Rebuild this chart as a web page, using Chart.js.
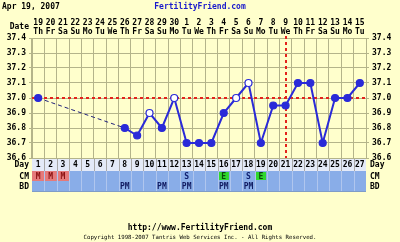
<!DOCTYPE html>
<html>
<head>
<meta charset="utf-8">
<script src="https://cdn.jsdelivr.net/npm/chart.js@4"></script>
<style>
  html, body { margin: 0; padding: 0; background: #ffffcc; }
  #chart { display: block; }
</style>
</head>
<body>
<canvas id="chart" width="400" height="242"></canvas>
<script>
// cycle days and calendar
const dayLabels = ['1','2','3','4','5','6','7','8','9','10','11','12','13','14','15','16','17','18','19','20','21','22','23','24','25','26','27'];
const dateLabels = ['19','20','21','22','23','24','25','26','27','28','29','30','1','2','3','4','5','6','7','8','9','10','11','12','13','14','15'];
const weekdayLabels = ['Th','Fr','Sa','Su','Mo','Tu','We','Th','Fr','Sa','Su','Mo','Tu','We','Th','Fr','Sa','Su','Mo','Tu','We','Th','Fr','Sa','Su','Mo','Tu'];

// temperatures (null = not recorded)
const temps = [37.0, null, null, null, null, null, null, 36.8, 36.75, 36.9, 36.8, 37.0, 36.7, 36.7, 36.7, 36.9, 37.0, 37.1, 36.7, 36.95, 36.95, 37.1, 37.1, 36.7, 37.0, 37.0, 37.1];
const openDays = ['10', '12', '17', '18'];

// cervical mucus and intercourse rows
const cmMarks = ['M','M','M','','','','','','','','','','S','','','E','','S','E','','','','','','','',''];
const bdMarks = ['','','','','','','','PM','','','PM','','PM','','','PM','','PM','','','','','','','','',''];

const tempMin = 36.6;
const tempMax = 37.4;
const tempStep = 0.1;
const coverline = 37.0;
const ovulationDay = '21';

const titleText = 'Apr 19, 2007';
const siteText = 'FertilityFriend.com';
const footerUrl = 'http://www.FertilityFriend.com';
const footerCopy = 'Copyright 1998-2007 Tantris Web Services Inc. - All Rights Reserved.';

const MONO = "'DejaVu Sans Mono', monospace";
const bgColor = '#ffffcc';
const gridColor = '#b4b48a';
const blue = '#2a2ad8';

const decor = {
  id: 'decor',
  beforeDraw(chart) {
    const { ctx, chartArea: a, scales: { x } } = chart;
    ctx.save();
    ctx.fillStyle = bgColor;
    ctx.fillRect(0, 0, chart.width, chart.height);

    ctx.textBaseline = 'middle';
    ctx.font = 'bold 8px ' + MONO;
    ctx.fillStyle = '#000';
    ctx.textAlign = 'left';
    ctx.fillText(titleText, 2, 7);
    ctx.fillStyle = '#1a1acc';
    ctx.textAlign = 'center';
    ctx.fillText(siteText, 200, 7);

    ctx.fillStyle = '#000';
    ctx.textAlign = 'right';
    ctx.fillText('Date', a.left - 3, 27);

    ctx.textAlign = 'center';
    ctx.fillText(footerUrl, 200, 228);
    ctx.font = '5.7px ' + MONO;
    ctx.fillText(footerCopy, 200, 238);

    // table rows under the plot
    const w = x.getPixelForValue(1) - x.getPixelForValue(0);
    const rows = [
      { top: a.bottom, h: 13, fill: '#e4eaf8', line: '#a8a8a8' },
      { top: a.bottom + 13, h: 10, fill: '#89ade8', line: '#b0c6ee' },
      { top: a.bottom + 23, h: 10, fill: '#89ade8', line: '#b0c6ee' }
    ];
    rows.forEach((r, ri) => {
      ctx.fillStyle = r.fill;
      ctx.fillRect(a.left, r.top, a.right - a.left, r.h);
      dayLabels.forEach((d, i) => {
        const cx = x.getPixelForValue(i);
        if (ri === 1 && cmMarks[i] === 'M') {
          ctx.fillStyle = '#e57a7a';
          ctx.fillRect(cx - w / 2, r.top, w, r.h);
        }
        if (ri === 1 && cmMarks[i] === 'E') {
          ctx.fillStyle = '#2fd82f';
          ctx.fillRect(cx - w / 2 + 1, r.top + 1, w - 2, r.h - 2);
        }
      });
      ctx.strokeStyle = r.line;
      ctx.lineWidth = 1;
      ctx.beginPath();
      for (let i = 1; i < dayLabels.length; i++) {
        const ex = Math.round(x.getPixelForValue(i) - w / 2) + 0.5;
        ctx.moveTo(ex, r.top);
        ctx.lineTo(ex, r.top + r.h);
      }
      ctx.stroke();
      ctx.strokeStyle = '#7f9cc8';
      ctx.beginPath();
      ctx.moveTo(a.left, r.top + r.h + 0.5);
      ctx.lineTo(a.right, r.top + r.h + 0.5);
      ctx.stroke();
    });

    ctx.font = 'bold 8px ' + MONO;
    ctx.textAlign = 'center';
    dayLabels.forEach((d, i) => {
      const cx = x.getPixelForValue(i);
      if (cmMarks[i]) {
        ctx.fillStyle = cmMarks[i] === 'M' ? '#8a1010' : (cmMarks[i] === 'E' ? '#0a4a0a' : '#102070');
        ctx.fillText(cmMarks[i], cx, rows[1].top + 5.5);
      }
      if (bdMarks[i]) {
        ctx.fillStyle = '#101a60';
        ctx.fillText(bdMarks[i], cx, rows[2].top + 5.5);
      }
    });

    ctx.fillStyle = '#000';
    const names = ['Day', 'CM', 'BD'];
    rows.forEach((r, ri) => {
      ctx.textAlign = 'right';
      ctx.fillText(names[ri], a.left - 3, r.top + r.h / 2 + 0.5);
      ctx.textAlign = 'left';
      ctx.fillText(names[ri], a.right + 4, r.top + r.h / 2 + 0.5);
    });
    ctx.restore();
  },
  beforeDatasetsDraw(chart) {
    const { ctx, chartArea: a, scales: { x, y } } = chart;
    ctx.save();
    ctx.strokeStyle = '#e3231c';
    ctx.lineWidth = 2;
    ctx.setLineDash([3, 3]);
    const cy = Math.round(y.getPixelForValue(coverline));
    ctx.beginPath();
    ctx.moveTo(a.left, cy);
    ctx.lineTo(a.right, cy);
    const ox = Math.round(x.getPixelForValue(dayLabels.indexOf(ovulationDay)));
    ctx.moveTo(ox, a.top - 2);
    ctx.lineTo(ox, a.bottom);
    ctx.stroke();
    ctx.restore();
  }
};

const isOpen = ctx => openDays.includes(dayLabels[ctx.dataIndex]);
// a segment that jumps over missing days is drawn thin and dashed
const overGap = ctx => temps[ctx.p1DataIndex - 1] === null;

new Chart(document.getElementById('chart'), {
  type: 'line',
  data: {
    labels: dayLabels,
    datasets: [{
      data: temps,
      borderColor: blue,
      borderWidth: 2,
      spanGaps: true,
      pointRadius: 3.5,
      pointBorderWidth: 1.2,
      pointBorderColor: blue,
      pointBackgroundColor: ctx => isOpen(ctx) ? '#ffffff' : blue,
      segment: {
        borderDash: ctx => overGap(ctx) ? [4, 3] : undefined,
        borderWidth: ctx => overGap(ctx) ? 1 : undefined,
        borderColor: ctx => overGap(ctx) ? '#22227a' : undefined
      }
    }]
  },
  options: {
    responsive: false,
    animation: false,
    events: [],
    layout: { padding: 0 },
    plugins: {
      legend: { display: false },
      tooltip: { enabled: false }
    },
    scales: {
      x: {
        position: 'bottom',
        offset: true,
        grid: { color: gridColor, drawTicks: false, offset: true },
        border: { color: gridColor },
        ticks: {
          color: '#000',
          padding: 2.5,
          maxRotation: 0,
          autoSkip: false,
          font: { family: MONO, size: 8, weight: 'bold', lineHeight: '9px' }
        },
        afterFit: s => { s.height = 242 - 158; }
      },
      xTop: {
        type: 'category',
        position: 'top',
        labels: dateLabels.map((d, i) => [d, weekdayLabels[i]]),
        offset: true,
        grid: { display: false, drawTicks: false },
        border: { display: false },
        ticks: {
          color: '#000',
          padding: 1.5,
          maxRotation: 0,
          autoSkip: false,
          font: { family: MONO, size: 8, weight: 'bold', lineHeight: '9px' }
        },
        afterFit: s => { s.height = 38; }
      },
      y: {
        position: 'left',
        min: tempMin,
        max: tempMax,
        grid: { color: gridColor, tickLength: 3 },
        border: { color: gridColor },
        ticks: {
          stepSize: tempStep,
          color: '#000',
          padding: 3,
          callback: v => v.toFixed(1),
          font: { family: MONO, size: 8, weight: 'bold' }
        },
        afterFit: s => { s.width = 32; }
      },
      yRight: {
        position: 'right',
        min: tempMin,
        max: tempMax,
        grid: { drawOnChartArea: false, color: gridColor, tickLength: 3 },
        border: { color: gridColor },
        ticks: {
          stepSize: tempStep,
          color: '#000',
          padding: 3,
          callback: v => v.toFixed(1),
          font: { family: MONO, size: 8, weight: 'bold' }
        },
        afterFit: s => { s.width = 34; }
      }
    }
  },
  plugins: [decor]
});
</script>
</body>
</html>
